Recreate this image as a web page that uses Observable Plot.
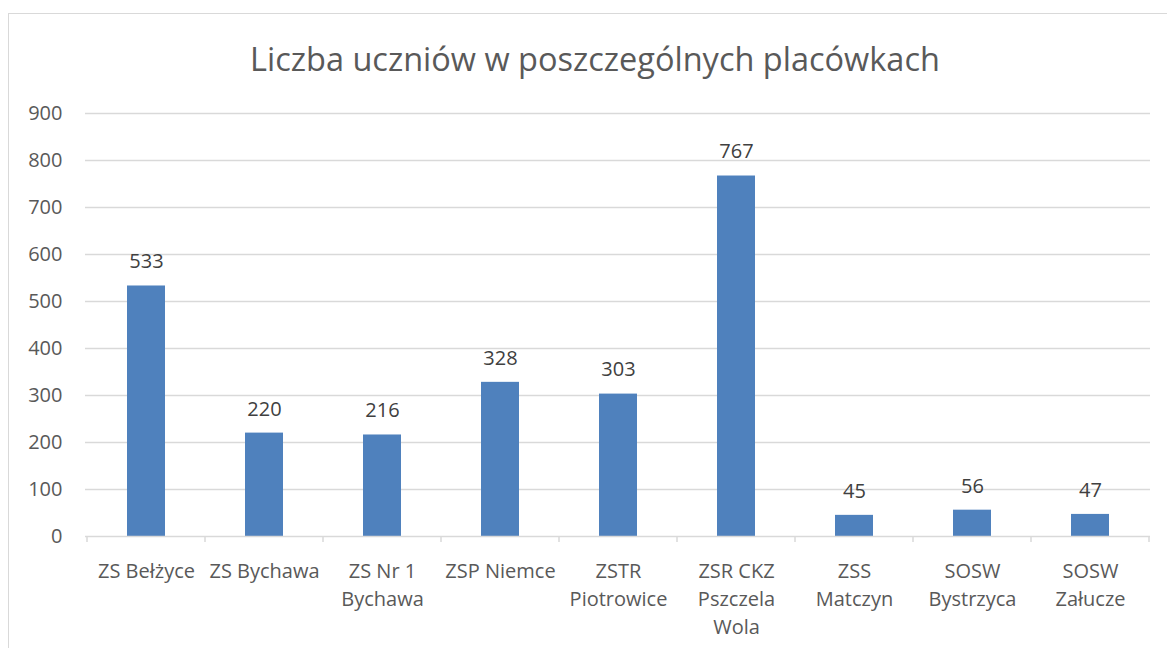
<!DOCTYPE html>
<html>
<head>
<meta charset="utf-8">
<script src="https://cdn.jsdelivr.net/npm/d3@7"></script>
<script src="https://cdn.jsdelivr.net/npm/@observablehq/plot@0.6"></script>
<style>
  html, body { margin: 0; padding: 0; background: #fff; overflow: hidden; }
  body { width: 1167px; height: 648px; position: relative; font-family: "Open Sans", sans-serif; }
  #frame { position: absolute; left: 8px; top: 13px; width: 1200px; height: 700px; border: 1px solid #d9d9d9; box-sizing: border-box; }
  #title { position: absolute; left: 0; width: 1190px; top: 39px; text-align: center; font-size: 32.5px; color: #595959; white-space: nowrap; line-height: 1.2; }
  #chart { position: absolute; left: 0; top: 0; }
</style>
</head>
<body>
<div id="frame"></div>
<div id="title">Liczba uczniów w poszczególnych placówkach</div>
<div id="chart"></div>
<script>
const categories = ["ZS Bełżyce", "ZS Bychawa", "ZS Nr 1\nBychawa", "ZSP Niemce", "ZSTR\nPiotrowice", "ZSR CKZ\nPszczela\nWola", "ZSS\nMatczyn", "SOSW\nBystrzyca", "SOSW\nZałucze"];
const values = [533, 220, 216, 328, 303, 767, 45, 56, 47];
const yTicks = [0, 100, 200, 300, 400, 500, 600, 700, 800, 900];

const data = categories.map((c, i) => ({category: c, value: values[i]}));

const chart = Plot.plot({
  width: 1167,
  height: 648,
  marginLeft: 85,
  marginRight: 17,
  marginTop: 113,
  marginBottom: 112,
  style: {fontFamily: "Open Sans, sans-serif", background: "transparent", overflow: "visible"},
  x: {domain: categories, paddingInner: 0.68, paddingOuter: 0.34, label: null},
  y: {domain: [0, 900], ticks: yTicks, label: null},
  marks: [
    Plot.gridY(yTicks.filter(d => d > 0), {stroke: "#d9d9d9", strokeOpacity: 1, strokeWidth: 1.3}),
    Plot.axisY({ticks: yTicks, tickSize: 0, tickPadding: 23, fontSize: 20, fill: "#595959", label: null}),
    Plot.axisX({tickSize: 0, tickPadding: 22, fontSize: 20, fill: "#595959", lineHeight: 1.4, textAnchor: "middle", label: null}),
    Plot.barY(data, {x: "category", y: "value", fill: "#4f81bd"}),
    Plot.ruleY([0], {stroke: "#d9d9d9", strokeWidth: 1.5}),
    Plot.text(data, {x: "category", y: "value", text: d => String(d.value), dy: -24, fontSize: 20, fill: "#404040"})
  ]
});
document.getElementById("chart").appendChild(chart);

// boundary tick marks below the category axis, using the plot's own x scale
const sx = chart.scale("x");
const sy = chart.scale("y");
const y0 = sy.apply(0);
const svg = d3.select(chart);
const bounds = categories.map(c => sx.apply(c) - (sx.step - sx.bandwidth) / 2);
bounds.push(sx.apply(categories[categories.length - 1]) + sx.bandwidth + (sx.step - sx.bandwidth) / 2);
svg.append("g").selectAll("line").data(bounds).join("line")
  .attr("x1", d => d).attr("x2", d => d)
  .attr("y1", y0).attr("y2", y0 + 6)
  .attr("stroke", "#d9d9d9").attr("stroke-width", 1.5);
</script>
</body>
</html>
